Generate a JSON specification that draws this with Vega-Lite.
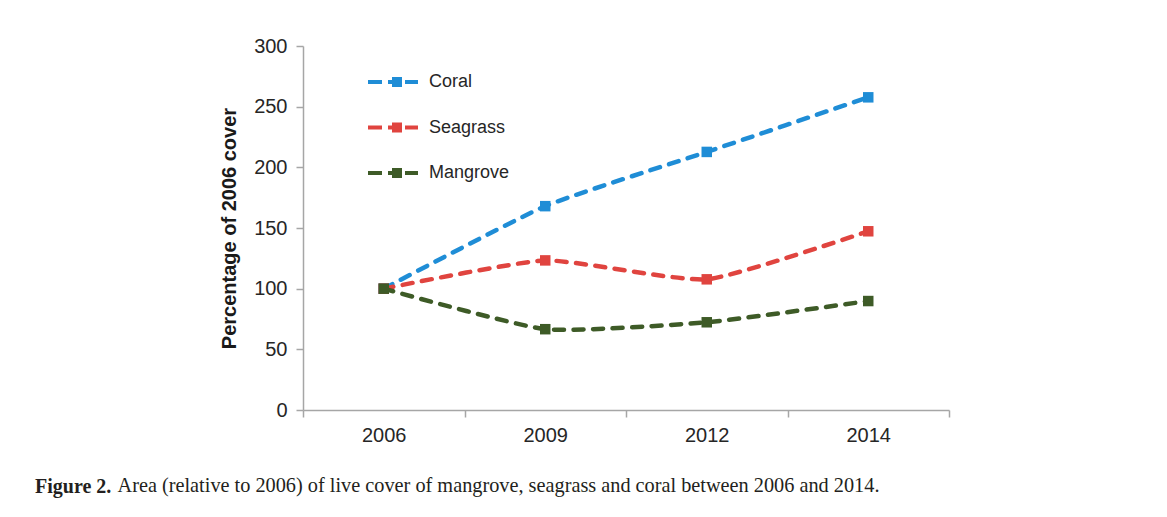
{
  "$schema": "https://vega.github.io/schema/vega-lite/v6.json",
  "width": 646,
  "height": 364,
  "autosize": {"type": "none"},
  "padding": {"left": 303, "top": 46, "right": 218, "bottom": 107},
  "background": "white",
  "config": {"view": {"stroke": null}, "font": "Liberation Sans"},
  "title": {"text": "Figure 2.", "orient": "top", "anchor": "start", "frame": "group", "font": "Liberation Serif", "fontSize": 20, "fontWeight": "bold", "color": "#231f20", "baseline": "alphabetic", "offset": 0, "dx": -268, "dy": 477},
  "data": {"values": [
    {"year": "2006", "habitat": "Coral", "value": 100},
    {"year": "2009", "habitat": "Coral", "value": 168},
    {"year": "2012", "habitat": "Coral", "value": 212.7},
    {"year": "2014", "habitat": "Coral", "value": 257.7},
    {"year": "2006", "habitat": "Seagrass", "value": 100},
    {"year": "2009", "habitat": "Seagrass", "value": 123.3},
    {"year": "2012", "habitat": "Seagrass", "value": 107.7},
    {"year": "2014", "habitat": "Seagrass", "value": 147.3},
    {"year": "2006", "habitat": "Mangrove", "value": 100},
    {"year": "2009", "habitat": "Mangrove", "value": 66.6},
    {"year": "2012", "habitat": "Mangrove", "value": 72.3},
    {"year": "2014", "habitat": "Mangrove", "value": 89.8}
  ]},
  "encoding": {
    "x": {"field": "year", "type": "ordinal", "bandPosition": 0.5,
      "scale": {"type": "band", "paddingInner": 0, "paddingOuter": 0},
      "axis": {"title": "Area (relative to 2006) of live cover of mangrove, seagrass and coral between 2006 and 2014.", "labelAngle": 0, "tickBand": "extent", "domainColor": "#a6a6a6", "tickColor": "#a6a6a6", "domainWidth": 1.5, "tickWidth": 1.5, "tickSize": 7, "labelFontSize": 20, "labelColor": "#262626", "labelPadding": 8, "titleX": -186, "titleY": 81, "titleAnchor": "start", "titleAlign": "left", "titleBaseline": "alphabetic", "titleFont": "Liberation Serif", "titleFontSize": 20.3, "titleFontWeight": "normal", "titleColor": "#231f20"}},
    "y": {"field": "value", "type": "quantitative",
      "scale": {"domain": [0, 300], "nice": false},
      "axis": {"title": "Percentage of 2006 cover", "values": [0, 50, 100, 150, 200, 250, 300], "grid": false, "domainColor": "#a6a6a6", "tickColor": "#a6a6a6", "domainWidth": 1.5, "tickWidth": 1.5, "tickSize": 7, "labelFontSize": 20, "labelColor": "#262626", "labelPadding": 9, "titleFontSize": 20, "titleFontWeight": "bold", "titleColor": "#1a1a1a", "titlePadding": 14}}
  },
  "layer": [
    {"mark": {"type": "line", "strokeWidth": 4.5, "strokeDash": [10, 9.5], "strokeCap": "round", "interpolate": "cardinal", "tension": 0.5},
     "encoding": {"color": {"field": "habitat", "type": "nominal", "legend": null,
       "scale": {"domain": ["Coral", "Seagrass", "Mangrove"], "range": ["#1f8dd6", "#e0443f", "#3e5b27"]}}}},
    {"mark": {"type": "point", "shape": "square", "filled": true, "size": 110, "opacity": 1},
     "encoding": {"color": {"field": "habitat", "type": "nominal",
       "scale": {"domain": ["Coral", "Seagrass", "Mangrove"], "range": ["#1f8dd6", "#e0443f", "#3e5b27"]},
       "legend": {"orient": "none", "legendX": 84, "legendY": 26, "title": null, "symbolType": "M-2.9,-0.2H-1.5V0.2H-2.9Z M-0.9,-0.2H-0.5V-0.5H0.5V0.5H-0.5V0.2H-0.9Z M0.8,-0.2H2.1V0.2H0.8Z", "symbolSize": 400, "symbolStrokeWidth": 0, "symbolOpacity": 1, "labelFontSize": 18, "labelOffset": 22, "rowPadding": 26.5, "padding": 0, "labelColor": "#262626", "labelFont": "Liberation Sans"}}}}
  ],
  "resolve": {"legend": {"color": "independent"}}
}
